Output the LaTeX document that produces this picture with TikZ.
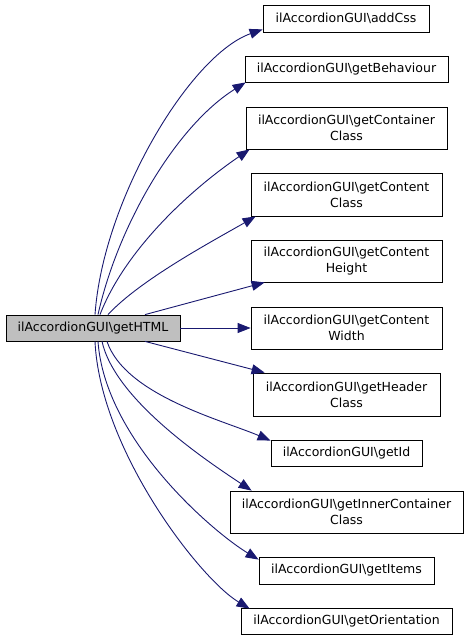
\documentclass[tikz,border=0pt]{standalone}
\usepackage{fontspec}
\setmainfont{DejaVu Sans}
\usetikzlibrary{arrows.meta,calc}
\definecolor{edgeblue}{RGB}{25,25,112}
\definecolor{nodegray}{RGB}{191,191,191}
\newcommand{\bs}{\textbackslash{}}
\tikzset{
  fn/.style={draw=black, line width=0.8pt, fill=white, inner sep=0pt, align=center,
    font=\fontsize{12.5}{16}\selectfont},
  cur/.style={fn, fill=nodegray},
  call/.style={draw=edgeblue, line width=0.9pt, -{Triangle[length=13pt,width=10pt]}}
}
\begin{document}
\begin{tikzpicture}[x=1pt,y=-1pt]
\useasboundingbox (0,0) rectangle (469,640);
\node[cur, minimum width=174pt, minimum height=26pt] (html) at (93,328) {ilAccordionGUI\bs getHTML};
\node[fn, minimum width=166pt, minimum height=27pt] (addcss) at (346,18.5) {ilAccordionGUI\bs addCss};
\node[fn, minimum width=203pt, minimum height=26pt] (behav) at (346.5,69) {ilAccordionGUI\bs getBehaviour};
\node[fn, minimum width=201pt, minimum height=42pt] (cont) at (346.5,128) {ilAccordionGUI\bs getContainer\\Class};
\node[fn, minimum width=191pt, minimum height=43pt] (cclass) at (346.5,194.5) {ilAccordionGUI\bs getContent\\Class};
\node[fn, minimum width=191pt, minimum height=42pt] (cheight) at (346.5,261) {ilAccordionGUI\bs getContent\\Height};
\node[fn, minimum width=191pt, minimum height=42pt] (cwidth) at (346.5,328) {ilAccordionGUI\bs getContent\\Width};
\node[fn, minimum width=187pt, minimum height=43pt] (header) at (346.5,394.5) {ilAccordionGUI\bs getHeader\\Class};
\node[fn, minimum width=151pt, minimum height=26pt] (getid) at (346.5,453) {ilAccordionGUI\bs getId};
\node[fn, minimum width=233pt, minimum height=42pt] (inner) at (346.5,512) {ilAccordionGUI\bs getInnerContainer\\Class};
\node[fn, minimum width=175pt, minimum height=27pt] (items) at (346.5,570.5) {ilAccordionGUI\bs getItems};
\node[fn, minimum width=211pt, minimum height=26pt] (orient) at (346.5,621) {ilAccordionGUI\bs getOrientation};

\draw[call] ([xshift=2pt]html.north) .. controls (103,200) and (190,55) .. ([yshift=3pt]addcss.south west);
\draw[call] ([xshift=5pt]html.north) .. controls (118,225) and (176,126) .. ([xshift=1pt]behav.south west);
\draw[call] ([xshift=7pt]html.north) .. controls (125,250) and (190,190) .. ([xshift=4pt]cont.south west);
\draw[call] ([xshift=15pt]html.north) .. controls (140,280) and (211,242) .. ([xshift=5pt]cclass.south west);
\draw[call] ([xshift=52pt]html.north) -- ([xshift=14pt]cheight.south west);
\draw[call] (html.east) -- (cwidth.west);
\draw[call] ([xshift=52pt]html.south) -- ([xshift=12pt]header.north west);
\draw[call] ([xshift=14pt]html.south) .. controls (125,395) and (222,420) .. ([yshift=-1pt]getid.north west);
\draw[call] ([xshift=9pt]html.south) .. controls (115,400) and (207,461) .. ([xshift=22pt]inner.north west);
\draw[call] ([xshift=5pt]html.south) .. controls (105,440) and (213,532) .. ([yshift=-3pt]items.north west);
\draw[call] ([xshift=2pt]html.south) .. controls (100,450) and (200,579) .. ([xshift=9pt,yshift=-1pt]orient.north west);
\end{tikzpicture}
\end{document}
